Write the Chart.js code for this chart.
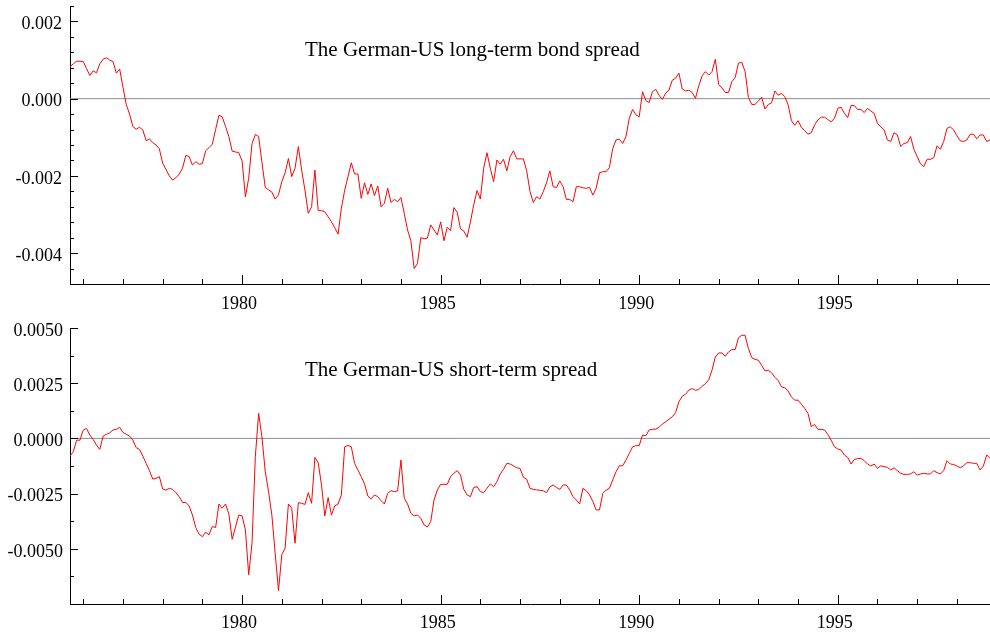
<!DOCTYPE html>
<html>
<head>
<meta charset="utf-8">
<title>German-US spreads</title>
<script src="https://cdn.jsdelivr.net/npm/chart.js@4.4.0/dist/chart.umd.min.js"></script>
<style>
  body { margin: 0; background: #fff; }
  #wrap { position: relative; width: 990px; height: 632px; }
  canvas { position: absolute; left: 0; }
  #longChart { top: 0; }
  #shortChart { top: 316px; }
</style>
</head>
<body>
<div id="wrap">
  <canvas id="longChart" width="990" height="316"></canvas>
  <canvas id="shortChart" width="990" height="316"></canvas>
</div>
<script>
// monthly data from Sep 1975, values in thousandths
const startYear = 1975;
const startMonth = 9;

const longSpread = [
    0.83, 0.90, 0.97, 0.97, 0.96, 0.78, 0.60, 0.72, 0.67, 0.90,
    1.02, 1.06, 1.00, 0.96, 0.66, 0.77, 0.30, -0.15, -0.40, -0.72,
    -0.79, -0.74, -0.81, -1.09, -1.04, -1.14, -1.20, -1.30, -1.67, -1.83,
    -2.00, -2.11, -2.05, -1.95, -1.80, -1.47, -1.50, -1.72, -1.63, -1.70,
    -1.68, -1.35, -1.27, -1.18, -0.80, -0.43, -0.47, -0.72, -0.98, -1.36,
    -1.38, -1.40, -1.61, -2.54, -2.06, -1.17, -0.93, -0.98, -1.65, -2.30,
    -2.36, -2.42, -2.60, -2.49, -2.15, -1.92, -1.55, -2.02, -1.80, -1.24,
    -1.85, -2.37, -2.97, -2.80, -1.85, -2.90, -2.90, -2.93, -3.06, -3.19,
    -3.34, -3.51, -2.84, -2.37, -2.02, -1.66, -1.95, -1.95, -2.58, -2.18,
    -2.48, -2.21, -2.51, -2.26, -2.80, -2.71, -2.32, -2.69, -2.61, -2.67,
    -2.56, -2.97, -3.40, -3.68, -4.40, -4.27, -3.60, -3.63, -3.61, -3.27,
    -3.40, -3.53, -3.19, -3.68, -3.33, -3.42, -2.82, -2.94, -3.37, -3.43,
    -3.59, -3.19, -2.75, -2.38, -2.60, -1.80, -1.40, -1.80, -2.15, -1.59,
    -1.70, -1.57, -1.87, -1.50, -1.35, -1.56, -1.56, -1.56, -1.87, -2.40,
    -2.69, -2.54, -2.60, -2.41, -2.18, -1.87, -2.28, -2.30, -2.13, -2.28,
    -2.61, -2.61, -2.67, -2.28, -2.28, -2.31, -2.32, -2.30, -2.50, -2.32,
    -1.92, -1.89, -1.89, -1.78, -1.29, -1.07, -1.05, -1.16, -0.98, -0.51,
    -0.28, -0.42, -0.47, 0.18, -0.05, -0.10, 0.18, 0.24, 0.09, -0.02,
    0.14, 0.22, 0.48, 0.53, 0.66, 0.25, 0.20, 0.22, 0.16, 0.01,
    0.33, 0.59, 0.70, 0.61, 0.70, 1.02, 0.37, 0.28, 0.16, 0.16,
    0.44, 0.55, 0.92, 0.94, 0.70, 0.03, -0.15, -0.15, -0.06, 0.04,
    -0.27, -0.15, -0.11, 0.20, 0.09, 0.14, 0.05, -0.16, -0.57, -0.69,
    -0.57, -0.74, -0.83, -0.92, -0.88, -0.68, -0.55, -0.48, -0.48, -0.54,
    -0.60, -0.51, -0.25, -0.22, -0.38, -0.49, -0.18, -0.18, -0.28, -0.28,
    -0.36, -0.25, -0.32, -0.38, -0.64, -0.73, -0.81, -1.07, -1.11, -0.88,
    -0.94, -1.24, -1.16, -1.14, -0.98, -1.31, -1.50, -1.69, -1.76, -1.57,
    -1.57, -1.53, -1.22, -1.31, -1.11, -0.77, -0.73, -0.81, -0.96, -1.09,
    -1.11, -1.07, -0.92, -0.92, -1.04, -0.94, -0.94, -1.11, -1.07
];

const shortSpread = [
    -0.80, -0.60, -0.08, -0.08, 0.38, 0.45, 0.15, -0.05, -0.30, -0.50,
    0.10, 0.19, 0.25, 0.38, 0.41, 0.50, 0.27, 0.19, 0.10, -0.08,
    -0.42, -0.50, -0.80, -1.13, -1.46, -1.84, -1.81, -1.73, -2.29, -2.34,
    -2.26, -2.31, -2.46, -2.64, -2.90, -2.90, -3.06, -3.47, -4.04, -4.34,
    -4.45, -4.25, -4.37, -3.99, -4.04, -2.97, -3.16, -2.97, -3.42, -4.57,
    -4.02, -3.47, -3.51, -4.14, -6.18, -4.75, -0.83, 1.13, 0.07, -1.51,
    -2.41, -3.47, -5.20, -6.89, -5.27, -4.97, -2.97, -3.16, -4.75, -2.91,
    -2.94, -2.99, -2.46, -2.94, -0.86, -1.10, -2.11, -3.51, -2.68, -3.47,
    -3.06, -2.97, -2.56, -0.38, -0.32, -0.38, -1.13, -1.43, -1.73, -2.06,
    -2.61, -2.74, -2.56, -2.64, -2.82, -2.97, -2.49, -2.37, -2.41, -2.38,
    -0.98, -2.71, -2.97, -3.39, -3.51, -3.47, -3.62, -3.92, -4.01, -3.77,
    -2.79, -2.34, -2.08, -2.08, -2.08, -1.73, -1.58, -1.46, -1.66, -2.31,
    -2.56, -2.64, -2.22, -2.19, -2.41, -2.46, -2.26, -2.06, -2.19, -1.96,
    -1.61, -1.40, -1.13, -1.16, -1.24, -1.33, -1.36, -1.76, -1.85, -2.26,
    -2.31, -2.33, -2.35, -2.37, -2.46, -2.19, -2.11, -2.22, -2.31, -2.11,
    -2.11, -2.34, -2.64, -2.79, -2.97, -2.26, -2.37, -2.56, -2.86, -3.24,
    -3.24, -2.49, -2.34, -2.26, -1.88, -1.51, -1.24, -1.24, -0.98, -0.68,
    -0.38, -0.33, -0.33, 0.15, 0.12, 0.38, 0.41, 0.42, 0.50, 0.65,
    0.75, 0.87, 0.98, 1.17, 1.66, 1.91, 2.00, 2.18, 2.26, 2.18,
    2.21, 2.36, 2.48, 2.66, 3.09, 3.69, 3.87, 3.87, 3.72, 3.92,
    4.02, 4.02, 4.56, 4.67, 4.67, 4.07, 3.66, 3.58, 3.54, 3.31,
    3.06, 3.09, 2.97, 2.77, 2.62, 2.33, 2.29, 2.15, 1.88, 1.73,
    1.73, 1.55, 1.36, 1.13, 0.53, 0.63, 0.41, 0.41, 0.38, 0.18,
    -0.08, -0.38, -0.48, -0.53, -0.75, -0.86, -1.16, -0.95, -0.92, -0.90,
    -1.01, -1.16, -1.25, -1.16, -1.36, -1.24, -1.28, -1.31, -1.43, -1.33,
    -1.46, -1.58, -1.63, -1.63, -1.61, -1.51, -1.66, -1.61, -1.58, -1.61,
    -1.61, -1.46, -1.55, -1.61, -1.46, -1.01, -1.16, -1.18, -1.25, -1.33,
    -1.24, -1.10, -1.10, -1.13, -1.13, -1.43, -1.25, -0.75, -0.90
];

const yearTicks = [1980, 1985, 1990, 1995];
const longTicks = [-0.004, -0.002, 0, 0.002];
const shortTicks = [-0.005, -0.0025, 0, 0.0025, 0.005];

const xMin = startYear + (startMonth - 1) / 12;
const xMax = xMin + (longSpread.length - 1) / 12;

function toPoints(values) {
    return values.map((v, i) => ({ x: xMin + i / 12, y: v / 1000 }));
}

const serif = { family: 'Liberation Serif', size: 18 };

// zero line, inward tick marks and the panel title
const panelDecor = {
    id: 'panelDecor',
    beforeDatasetsDraw(chart, args, opts) {
        const { ctx, chartArea, scales } = chart;
        const y0 = scales.y.getPixelForValue(0);
        ctx.save();
        ctx.strokeStyle = '#8c8c8c';
        ctx.lineWidth = 1;
        ctx.beginPath();
        ctx.moveTo(chartArea.left, y0);
        ctx.lineTo(chartArea.right, y0);
        ctx.stroke();
        ctx.restore();
    },
    afterDraw(chart, args, opts) {
        const { ctx, chartArea, scales } = chart;
        const xs = scales.x;
        const ys = scales.y;
        ctx.save();
        ctx.strokeStyle = '#000';
        ctx.lineWidth = 1;
        ctx.beginPath();
        const n = Math.round((ys.max - ys.min) / opts.yMinor);
        for (let k = 0; k <= n; k++) {
            const v = ys.min + k * opts.yMinor;
            const major = opts.yMajor.some(t => Math.abs(t - v) < 1e-9);
            const py = Math.round(ys.getPixelForValue(v)) + 0.5;
            ctx.moveTo(chartArea.left, py);
            ctx.lineTo(chartArea.left + (major ? 8 : 4), py);
        }
        for (let yr = Math.ceil(xs.min); yr <= xs.max; yr++) {
            const px = Math.round(xs.getPixelForValue(yr)) + 0.5;
            ctx.moveTo(px, chartArea.bottom);
            ctx.lineTo(px, chartArea.bottom - (yr % 5 === 0 ? 9 : 5));
        }
        ctx.stroke();

        ctx.fillStyle = '#000';
        ctx.font = '21px "Liberation Serif"';
        ctx.textBaseline = 'alphabetic';
        ctx.textAlign = 'left';
        ctx.fillText(opts.title, opts.titleX, opts.titleY);
        ctx.restore();
    }
};

function makeChart(canvasId, values, ticks, yMin, yMax, digits, minorStep, padTop, xHeight, xPad, yPad, title, titleY) {
    const ctx = document.getElementById(canvasId).getContext('2d');
    return new Chart(ctx, {
        type: 'line',
        data: {
            datasets: [{
                data: toPoints(values),
                borderColor: '#ff0000',
                borderWidth: 1,
                pointRadius: 0,
                tension: 0
            }]
        },
        options: {
            responsive: false,
            animation: false,
            layout: { padding: { top: padTop, right: 0, left: 0, bottom: 0 } },
            plugins: {
                legend: { display: false },
                tooltip: { enabled: false },
                panelDecor: { yMajor: ticks, yMinor: minorStep, title: title, titleX: 305, titleY: titleY }
            },
            scales: {
                x: {
                    type: 'linear',
                    min: xMin,
                    max: xMax,
                    afterBuildTicks: axis => { axis.ticks = yearTicks.map(v => ({ value: v })); },
                    afterFit: axis => { axis.height = xHeight; axis.paddingLeft = 0; axis.paddingRight = 0; },
                    grid: { display: false, drawTicks: false },
                    border: { display: true, color: '#000', width: 1 },
                    ticks: {
                        color: '#000', font: serif, padding: xPad, labelOffset: -3,
                        maxRotation: 0, autoSkip: false,
                        callback: v => String(v)
                    }
                },
                y: {
                    type: 'linear',
                    min: yMin,
                    max: yMax,
                    afterBuildTicks: axis => { axis.ticks = ticks.map(v => ({ value: v })); },
                    afterFit: axis => { axis.width = 70; axis.paddingTop = 0; axis.paddingBottom = 0; },
                    grid: { display: false, drawTicks: false },
                    border: { display: true, color: '#000', width: 1 },
                    ticks: {
                        color: '#000', font: serif, padding: yPad, labelOffset: 3,
                        callback: v => v.toFixed(digits)
                    }
                }
            }
        },
        plugins: [panelDecor]
    });
}

let longChart = makeChart('longChart', longSpread, longTicks, -0.0048, 0.0024, 3, 0.0004, 6, 32, 9, 8,
    'The German-US long-term bond spread', 56);
let shortChart = makeChart('shortChart', shortSpread, shortTicks, -0.0075, 0.005, 4, 0.00125, 12, 28, 8, 7,
    'The German-US short-term spread', 60);
</script>
</body>
</html>
